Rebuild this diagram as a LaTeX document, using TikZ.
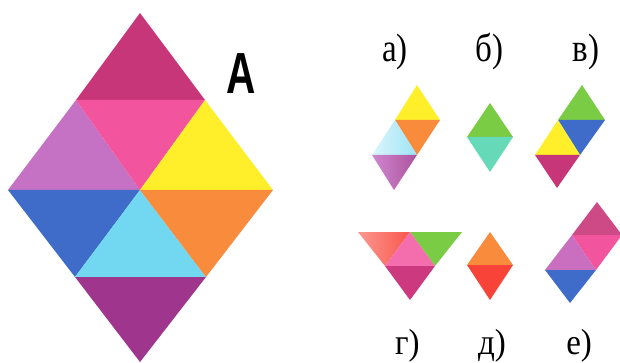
\documentclass[tikz,border=0pt]{standalone}
\usepackage{fontspec}
\setmainfont{Liberation Serif}
\newfontfamily\capfont{Liberation Sans}
\usetikzlibrary{positioning}

\definecolor{crim}{HTML}{C8367A}
\definecolor{rose}{HTML}{F2549E}
\definecolor{lilac}{HTML}{C672C4}
\definecolor{yel}{HTML}{FFEF2A}
\definecolor{blu}{HTML}{3E6CC8}
\definecolor{sky}{HTML}{72D8F2}
\definecolor{ora}{HTML}{F88C3C}
\definecolor{plum}{HTML}{A0358E}
\definecolor{grn}{HTML}{7ACC44}
\definecolor{teal}{HTML}{66D9B8}
\definecolor{red}{HTML}{F84438}

\begin{document}
\begin{tikzpicture}[
    x=1pt, y=-1pt,
    node distance=60pt,
    lbl/.style={font=\fontsize{33}{33}\selectfont, inner sep=0pt}
]
    \useasboundingbox (0,0) rectangle (620,363);

    % big rhombus
    \fill[crim]  (140,13) -- (76,100) -- (205,100) -- cycle;
    \fill[lilac] (76,100) -- (8,190) -- (140,190) -- cycle;
    \fill[rose]  (76,100) -- (205,100) -- (140,190) -- cycle;
    \fill[yel]   (205,100) -- (140,190) -- (273,190) -- cycle;
    \fill[blu]   (8,190) -- (140,190) -- (75,277) -- cycle;
    \fill[sky]   (140,190) -- (75,277) -- (206,277) -- cycle;
    \fill[ora]   (140,190) -- (273,190) -- (206,277) -- cycle;
    \fill[plum]  (75,277) -- (206,277) -- (140,362) -- cycle;
    \node[font=\capfont\bfseries\fontsize{58}{58}\selectfont, inner sep=0pt] (capA) at (241,74) {\scalebox{0.7}[1]{A}};

    % a)
    \fill[yel] (417,85) -- (395,120) -- (440,120) -- cycle;
    \fill[ora] (395,120) -- (440,120) -- (417,155) -- cycle;
    \shade[left color=sky!25, right color=sky!70] (395,120) -- (372,155) -- (417,155) -- cycle;
    \shade[left color=lilac!85, right color=plum!85] (372,155) -- (417,155) -- (394,190) -- cycle;
    % b)
    \fill[grn]  (490,103) -- (467,137) -- (513,137) -- cycle;
    \fill[teal] (467,137) -- (513,137) -- (490,172) -- cycle;
    % v)
    \fill[grn]  (582,85) -- (558,120) -- (605,120) -- cycle;
    \fill[blu]  (558,120) -- (605,120) -- (580,155) -- cycle;
    \fill[yel]  (558,120) -- (535,155) -- (580,155) -- cycle;
    \fill[crim] (535,155) -- (580,155) -- (557,188) -- cycle;
    % g)
    \shade[left color=red!55, right color=red!90] (358,232) -- (410,232) -- (385,266) -- cycle;
    \fill[grn]  (410,232) -- (462,232) -- (435,266) -- cycle;
    \fill[rose!85] (410,232) -- (385,266) -- (435,266) -- cycle;
    \fill[crim!90!rose] (385,266) -- (435,266) -- (410,300) -- cycle;
    % d)
    \fill[ora] (490,232) -- (467,265) -- (513,265) -- cycle;
    \fill[red] (467,265) -- (513,265) -- (490,300) -- cycle;
    % e)
    \fill[crim!90!white] (597,202) -- (572,235) -- (622,235) -- cycle;
    \fill[rose]  (572,235) -- (622,235) -- (596,270) -- cycle;
    \fill[lilac!90!rose] (572,235) -- (545,270) -- (596,270) -- cycle;
    \fill[blu]   (545,270) -- (596,270) -- (570,303) -- cycle;

    % labels
    \node[lbl, anchor=base west] (la) at (382,62) {\scalebox{1}[1.2]{а)}};
    \node[lbl, base right=67pt of la] (lb) {\scalebox{1}[1.2]{б)}};
    \node[lbl, base right=69pt of lb] (lv) {\scalebox{1}[1.2]{в)}};
    \node[lbl, anchor=base west] (lg) at (395,354) {\scalebox{1}[1.1]{г)}};
    \node[lbl, base right=58pt of lg] (ld) {\scalebox{1}[1.1]{д)}};
    \node[lbl, base right=60pt of ld] (le) {\scalebox{1}[1.1]{е)}};
\end{tikzpicture}
\end{document}
